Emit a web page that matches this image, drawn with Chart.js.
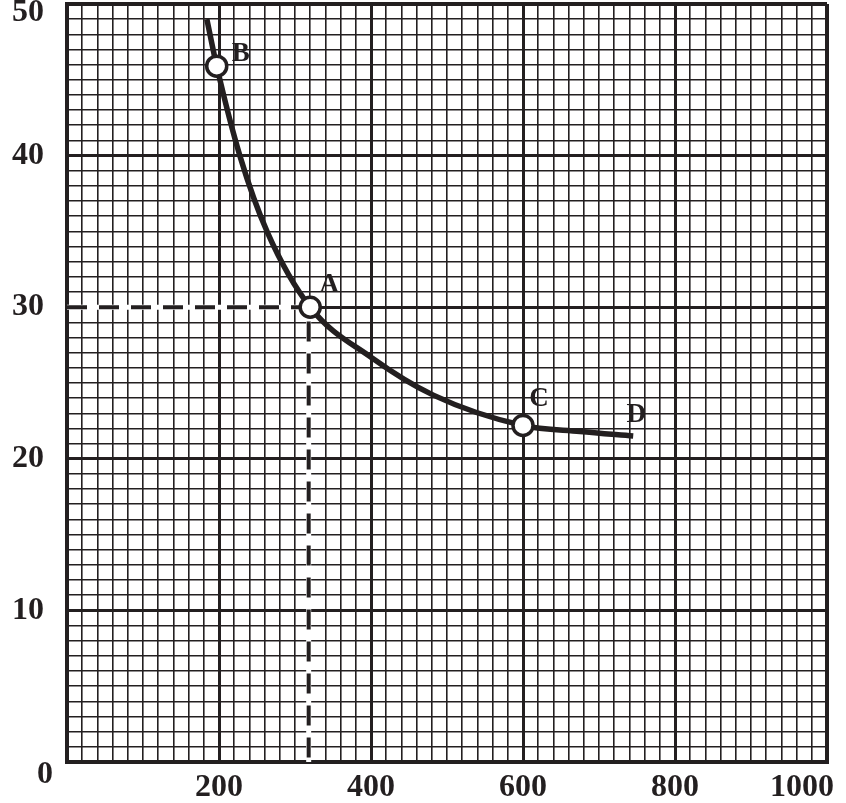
<!DOCTYPE html>
<html lang="en">
<head>
  <meta charset="UTF-8" />
  <title>Curve B-A-C-D</title>
  <script src="https://cdn.jsdelivr.net/npm/chart.js@4.4.0/dist/chart.umd.min.js"></script>
  <style>
    body { margin: 0; background: #fff; }
    #wrap { width: 846px; height: 803px; position: relative; }
  </style>
</head>
<body>
  <div id="wrap"><canvas id="graph"></canvas></div>

  <script>
    // values
    const curveX = [184, 197, 228, 264, 320, 400, 482, 600, 675, 745];
    const curveY = [49.0, 45.9, 39.9, 34.9, 30.0, 26.7, 24.2, 22.2, 21.8, 21.5];

    const markerNames = ['B', 'A', 'C'];
    const markerX = [197, 320, 600];
    const markerY = [45.9, 30.0, 22.2];

    const endName = 'D';
    const guideX = [0, 318, 318];
    const guideY = [30, 30, 0];

    const xTickLabels = [200, 400, 600, 800, 1000];
    const yTickLabels = [10, 20, 30, 40, 50];

    const ink = '#231f20';
    const pts = (xs, ys) => xs.map((x, i) => ({ x: x, y: ys[i] }));

    // letters next to the points, and tick numbers
    const textPlugin = {
      id: 'texts',
      afterDraw(chart) {
        const c = chart.ctx;
        const xs = chart.scales.x, ys = chart.scales.y;
        c.save();
        c.fillStyle = ink;

        c.font = 'bold 32px "Liberation Serif"';
        c.textBaseline = 'middle';
        c.textAlign = 'center';
        xTickLabels.forEach(v => {
          const w = c.measureText(String(v)).width;
          const px = Math.min(xs.getPixelForValue(v), 834 - w / 2);
          c.fillText(String(v), px, 788);
        });
        c.textAlign = 'right';
        yTickLabels.forEach(v => {
          const py = Math.max(ys.getPixelForValue(v), 13);
          c.fillText(String(v), 44, py);
        });
        c.textAlign = 'center';
        c.fillText('0', 45, 775);

        c.font = 'bold 27px "Liberation Serif"';
        const offs = { B: [24, -12], A: [19, -22], C: [16, -26] };
        markerNames.forEach((n, i) => {
          const px = xs.getPixelForValue(markerX[i]);
          const py = ys.getPixelForValue(markerY[i]);
          c.fillText(n, px + offs[n][0], py + offs[n][1]);
        });
        const last = curveX.length - 1;
        c.fillText(endName, xs.getPixelForValue(curveX[last]) + 3,
                   ys.getPixelForValue(curveY[last]) - 21);
        c.restore();
      }
    };

    const gridWidth = (ctx, major, edge) => {
      if (!ctx.tick) return 1.6;
      const v = ctx.tick.value;
      if (v === edge) return 4;
      return v % major === 0 ? 3 : 1.6;
    };

    new Chart(document.getElementById('graph'), {
      type: 'scatter',
      data: {
        datasets: [
          {
            // circles B, A, C (dataset 0 is drawn on top)
            data: pts(markerX, markerY),
            showLine: false,
            pointRadius: 10,
            pointBorderWidth: 3.5,
            pointBackgroundColor: '#fff',
            pointBorderColor: ink
          },
          {
            data: pts(curveX, curveY),
            showLine: true,
            borderColor: ink,
            borderWidth: 5.5,
            borderCapStyle: 'butt',
            cubicInterpolationMode: 'monotone',
            pointRadius: 0
          },
          {
            data: pts(guideX, guideY),
            showLine: true,
            borderColor: ink,
            borderWidth: 4,
            borderDash: [20, 12],
            pointRadius: 0
          },
          {
            // white under the dashes
            data: pts(guideX, guideY),
            showLine: true,
            borderColor: '#fff',
            borderWidth: 5,
            pointRadius: 0
          }
        ]
      },
      options: {
        responsive: true,
        maintainAspectRatio: false,
        animation: false,
        layout: { autoPadding: false, padding: { top: 4, right: 19, left: 0, bottom: 0 } },
        plugins: { legend: { display: false }, tooltip: { enabled: false } },
        scales: {
          x: {
            type: 'linear',
            min: 0, max: 1000,
            afterFit(s) { s.height = 41; },
            ticks: { stepSize: 20, display: false, autoSkip: false },
            grid: {
              color: ink,
              drawTicks: false,
              lineWidth: ctx => gridWidth(ctx, 200, 1000)
            },
            border: { display: true, width: 4, color: ink }
          },
          y: {
            type: 'linear',
            min: 0, max: 50,
            afterFit(s) { s.width = 67; },
            ticks: { stepSize: 1, display: false, autoSkip: false },
            grid: {
              color: ink,
              drawTicks: false,
              lineWidth: ctx => gridWidth(ctx, 10, 50)
            },
            border: { display: true, width: 4, color: ink }
          }
        }
      },
      plugins: [textPlugin]
    });
  </script>
</body>
</html>
